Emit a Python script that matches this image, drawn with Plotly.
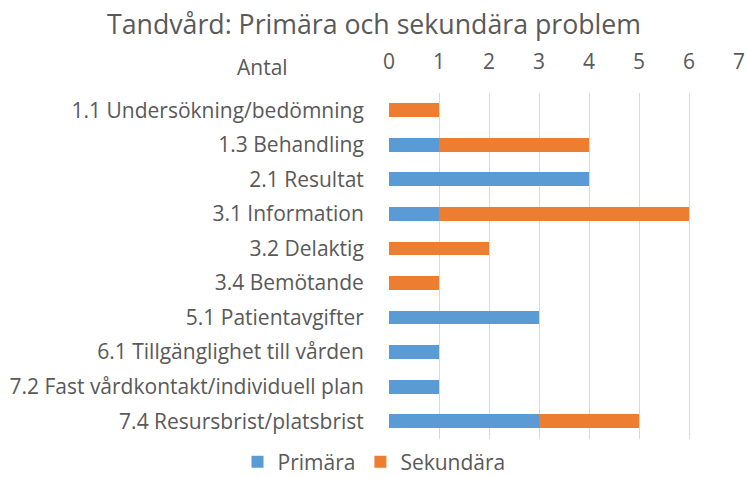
import plotly.graph_objects as go

# Problemområden (kategorier) och antal per typ
kategorier = [
    "1.1 Undersökning/bedömning",
    "1.3 Behandling",
    "2.1 Resultat",
    "3.1 Information",
    "3.2 Delaktig",
    "3.4 Bemötande",
    "5.1 Patientavgifter",
    "6.1 Tillgänglighet till vården",
    "7.2 Fast vårdkontakt/individuell plan",
    "7.4 Resursbrist/platsbrist",
]
primara = [0, 1, 4, 1, 0, 0, 3, 1, 1, 3]
sekundara = [1, 3, 0, 5, 2, 1, 0, 0, 0, 2]
x_ticks = [0, 1, 2, 3, 4, 5, 6, 7]

grey = "#595959"
font_family = "Open Sans"
fs = 21

fig = go.Figure()
fig.add_trace(go.Bar(name="Primära", y=kategorier, x=primara, orientation="h",
                     marker=dict(color="#5B9BD5", line=dict(width=0))))
fig.add_trace(go.Bar(name="Sekundära", y=kategorier, x=sekundara, orientation="h",
                     marker=dict(color="#ED7D31", line=dict(width=0))))

fig.update_layout(
    width=748, height=477,
    barmode="stack", bargap=0.6,
    paper_bgcolor="white", plot_bgcolor="white",
    margin=dict(l=389, r=3, t=93, b=35),
    font=dict(family=font_family, size=fs, color=grey),
    title=dict(text="Tandvård: Primära och sekundära problem", x=0.5, xanchor="center",
               y=1 - 25 / 477, yanchor="middle", yref="container",
               font=dict(size=26.7, color=grey)),
    legend=dict(orientation="h", xref="container", x=0.5, xanchor="center",
                yref="container", y=15 / 477, yanchor="middle",
                font=dict(size=fs, color=grey), itemwidth=30, traceorder="normal"),
    showlegend=True,
)
fig.update_xaxes(side="top", range=[0, 7.02], tickvals=x_ticks, showgrid=True,
                 gridcolor="#D9D9D9", gridwidth=1, zeroline=False, showline=False,
                 ticks="outside", ticklen=15, tickcolor="rgba(0,0,0,0)",
                 ticklabeloverflow="allow",
                 tickfont=dict(size=fs, color=grey), fixedrange=True)
fig.update_yaxes(autorange="reversed", showgrid=False, zeroline=False, showline=False,
                 ticks="outside", ticklen=20, tickcolor="rgba(0,0,0,0)",
                 tickfont=dict(size=fs, color=grey), fixedrange=True)
fig.add_annotation(text="Antal", xref="paper", yref="paper", x=(261 - 389) / 356,
                   y=(442 - 67) / 349, xanchor="center", yanchor="middle",
                   showarrow=False, font=dict(size=fs, color=grey))

fig.write_html("out.html", config={"displayModeBar": False},
               post_script="document.body.style.margin='0px';")
